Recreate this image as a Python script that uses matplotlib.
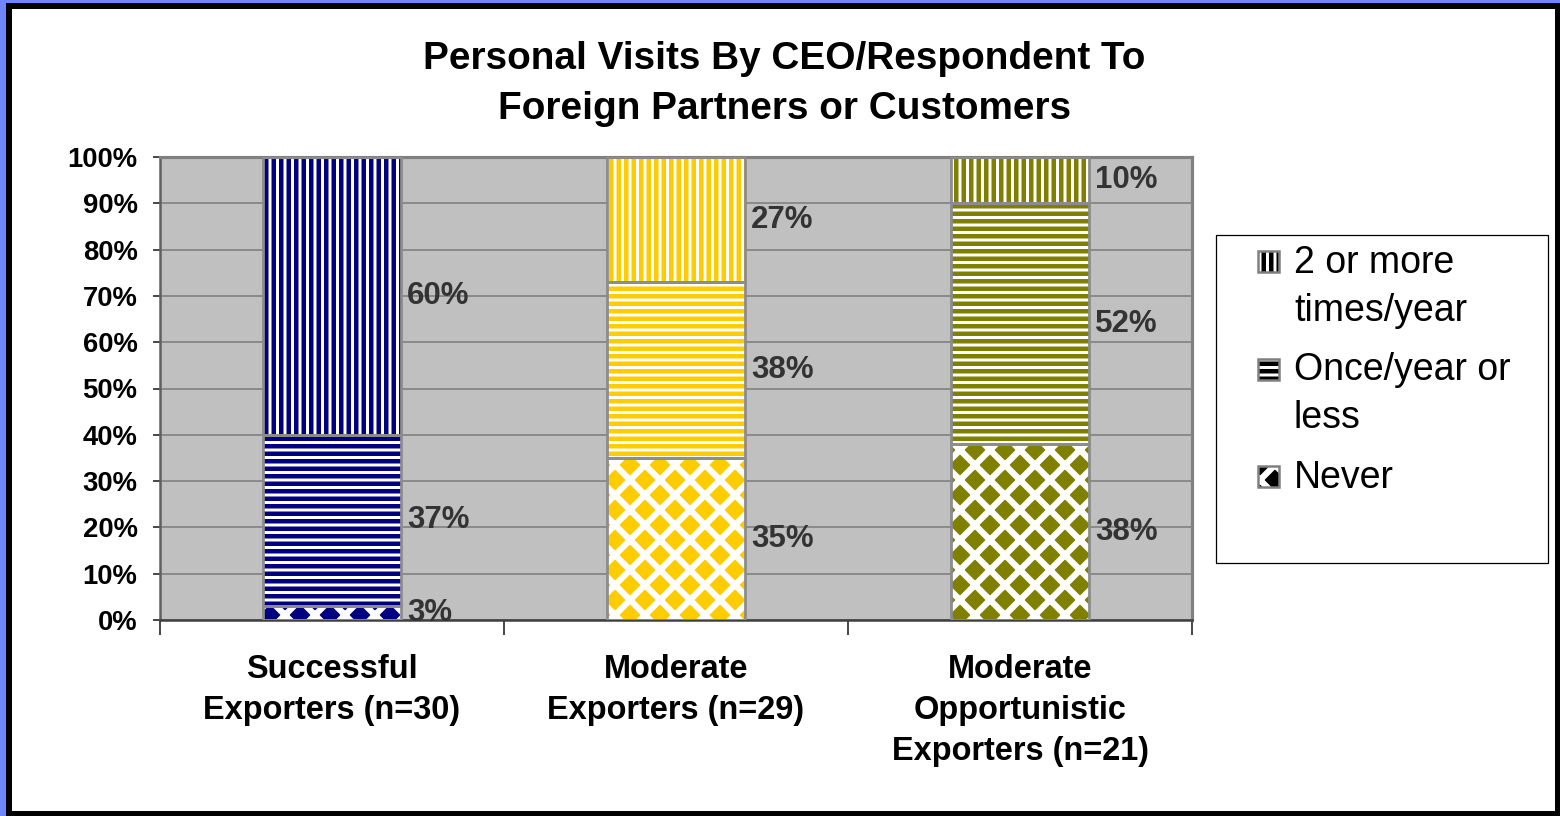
import numpy as np
import matplotlib.pyplot as plt
from matplotlib.patches import Rectangle

plt.rcParams['font.family'] = ['Liberation Sans', 'DejaVu Sans']

# data
categories = ["Successful\nExporters (n=30)",
              "Moderate\nExporters (n=29)",
              "Moderate\nOpportunistic\nExporters (n=21)"]
series = ["Never", "Once/year or\nless", "2 or more\ntimes/year"]
never = [3, 35, 38]
once = [37, 38, 52]
more = [60, 27, 10]
values = [never, once, more]
bar_colors = ['#000080', '#FFCC00', '#808000']

W, H, DPI = 1560, 816, 90


def px(x, y):
    return x / W, 1 - y / H


fig = plt.figure(figsize=(W / DPI, H / DPI), dpi=DPI)
fig.patch.set_facecolor('#6F86FF')
fig.add_artist(Rectangle((6 / W, 0), 1 - 6 / W, 1 - 3 / H, transform=fig.transFigure,
                         facecolor='black', edgecolor='none', zorder=-10))
fig.add_artist(Rectangle((12 / W, 5 / H), (1555 - 12) / W, (811 - 9) / H, transform=fig.transFigure,
                         facecolor='white', edgecolor='none', zorder=-9))

fig.text(0.503, px(0, 84)[1], "Personal Visits By CEO/Respondent To\nForeign Partners or Customers",
         ha='center', va='center', fontsize=31, fontweight='bold', linespacing=1.5)

ax = fig.add_axes([160 / W, 196 / H, 1032 / W, 463 / H])
ax.set_facecolor('#C0C0C0')
ax.set_xlim(-0.5, 2.5)
ax.set_ylim(0, 100)
ax.yaxis.grid(True, color='#808080', lw=1.3)
ax.set_axisbelow(True)

x = np.arange(len(categories))
width = 0.4
# (hatch, inverted, hatch line width)
styles = [('x', True, 5.0), ('--', False, 3.6), ('||', False, 3.6)]


def hatched(patch, lw):
    if hasattr(patch, 'set_hatch_linewidth'):
        patch.set_hatch_linewidth(lw)
    return patch


bottom = np.zeros(len(categories))
for vals, (hatch, inv, hlw) in zip(values, styles):
    vals = np.array(vals, dtype=float)
    with plt.rc_context({'hatch.linewidth': hlw}):
        if inv:
            bars = ax.bar(x, vals, width, bottom=bottom, color=bar_colors, edgecolor='white',
                          linewidth=0, hatch=hatch, zorder=2)
        else:
            bars = ax.bar(x, vals, width, bottom=bottom, color='white', edgecolor=bar_colors,
                          linewidth=0, hatch=hatch, zorder=2)
    for b in bars:
        hatched(b, hlw)
    ax.bar(x, vals, width, bottom=bottom, fill=False, edgecolor='#8C8C8C',
           linewidth=2.2, zorder=3)
    for xi, b, v in zip(x, bottom, vals):
        ax.text(xi + width / 2 + 0.018, b + v / 2, f"{v:.0f}%", ha='left', va='center',
                fontsize=25, fontweight='bold', color='#333333', zorder=4)
    bottom += vals

ax.set_yticks(range(0, 101, 10))
ax.set_yticklabels([f"{v}%" for v in range(0, 101, 10)], fontsize=22, fontweight='bold')
ax.tick_params(axis='y', length=6, width=1.5, color='#404040', pad=12)

ax.set_xticks(x)
ax.set_xticklabels(categories, fontsize=26, fontweight='bold', linespacing=1.42)
ax.tick_params(axis='x', length=0, pad=27)
ax.set_xticks(np.arange(-0.5, 3, 1), minor=True)
ax.tick_params(axis='x', which='minor', length=12, width=1.5, color='#404040')

for s in ['top', 'right']:
    ax.spines[s].set_color('#808080')
    ax.spines[s].set_linewidth(2.5)
ax.spines['left'].set_color('#606060')
ax.spines['left'].set_linewidth(2)
ax.spines['bottom'].set_color('#404040')
ax.spines['bottom'].set_linewidth(2)

# legend drawn by hand
fig.add_artist(Rectangle(px(1216, 563), (1548 - 1216) / W, (563 - 235) / H,
                         transform=fig.transFigure, fill=False, edgecolor='black', lw=1))
for i, (label, (hatch, inv, hlw)) in enumerate(zip(series[::-1], styles[::-1])):
    yc = 262 + i * 107.5
    if inv:
        fc, hc = 'black', 'white'
    else:
        fc, hc = 'white', 'black'
    with plt.rc_context({'hatch.linewidth': hlw}):
        box = Rectangle(px(1258, yc + 10), 21 / W, 21 / H, transform=fig.transFigure,
                        facecolor=fc, edgecolor=hc, hatch=hatch, lw=0)
    fig.add_artist(hatched(box, hlw))
    fig.add_artist(Rectangle(px(1258, yc + 10), 21 / W, 21 / H, transform=fig.transFigure,
                             fill=False, edgecolor='#808080', lw=2))
    fig.text(px(1294, 0)[0], px(0, yc - 17)[1], label, ha='left', va='top',
             fontsize=30, linespacing=1.42)

fig.savefig('out.png', dpi=DPI, facecolor=fig.get_facecolor())
